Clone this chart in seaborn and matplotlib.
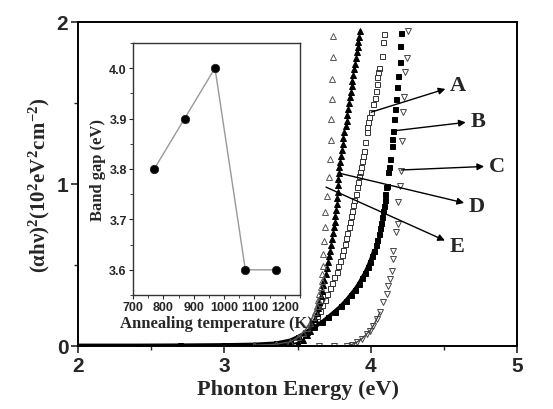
import numpy as np
import pandas as pd
import seaborn as sns
import matplotlib
matplotlib.use("Agg")
import matplotlib.pyplot as plt
from matplotlib.ticker import MultipleLocator

# ---- main panel: (alpha h nu)^2 vs photon energy ----
# A: open squares
xA = [3.20, 3.35, 3.45, 3.517, 3.552, 3.586, 3.613, 3.636, 3.654, 3.670, 3.688, 3.704,
      3.722, 3.736, 3.752, 3.768, 3.779, 3.791, 3.803, 3.814, 3.823, 3.832, 3.841, 3.852,
      3.859, 3.866, 3.875, 3.882, 3.889, 3.898, 3.905, 3.916, 3.921, 3.928, 3.932, 3.939,
      3.946, 3.955, 3.964, 3.973, 3.977, 3.984, 3.991, 4.003, 4.018, 4.030, 4.037, 4.042,
      4.046, 4.053, 4.059, 4.076, 4.087, 4.094]
yA = [0.003, 0.008, 0.020, 0.054, 0.085, 0.115, 0.150, 0.183, 0.218, 0.253, 0.286, 0.321,
      0.356, 0.389, 0.424, 0.459, 0.492, 0.527, 0.562, 0.594, 0.630, 0.665, 0.698, 0.733,
      0.767, 0.801, 0.835, 0.870, 0.903, 0.938, 0.980, 1.010, 1.048, 1.076, 1.103, 1.144,
      1.175, 1.206, 1.261, 1.319, 1.350, 1.381, 1.412, 1.443, 1.494, 1.529, 1.576, 1.617,
      1.659, 1.689, 1.714, 1.792, 1.875, 1.926]

# B: filled squares
xB = [2.00, 2.40, 2.70, 3.00, 3.20, 3.35, 3.449, 3.506, 3.563, 3.613, 3.666, 3.711,
      3.755, 3.796, 3.832, 3.864, 3.893, 3.919, 3.941, 3.962, 3.980, 3.996, 4.010, 4.023,
      4.035, 4.046, 4.055, 4.064, 4.071, 4.078, 4.085, 4.092, 4.096, 4.101, 4.105, 4.114,
      4.121, 4.126, 4.133, 4.144, 4.148, 4.155, 4.160, 4.169, 4.174, 4.183, 4.185, 4.201,
      4.201, 4.208]
yB = [0.002, 0.002, 0.003, 0.005, 0.008, 0.015, 0.033, 0.056, 0.085, 0.115, 0.146, 0.179,
      0.212, 0.245, 0.280, 0.315, 0.348, 0.383, 0.418, 0.451, 0.486, 0.520, 0.554, 0.588,
      0.623, 0.656, 0.691, 0.727, 0.759, 0.794, 0.831, 0.866, 0.903, 0.938, 0.980, 0.990,
      1.072, 1.103, 1.154, 1.236, 1.278, 1.329, 1.401, 1.463, 1.525, 1.597, 1.669, 1.755,
      1.854, 1.932]

# C: open down-triangles
xC = [3.65, 3.75, 3.837, 3.871, 3.905, 3.939, 3.973, 3.996, 4.018, 4.042, 4.064, 4.087,
      4.110, 4.121, 4.133, 4.144, 4.151, 4.155, 4.172, 4.189, 4.189, 4.201, 4.208, 4.217,
      4.219, 4.230, 4.237, 4.247, 4.254]
yC = [0.000, 0.000, 0.000, 0.008, 0.023, 0.043, 0.074, 0.094, 0.125, 0.167, 0.208, 0.270,
      0.321, 0.372, 0.414, 0.465, 0.537, 0.588, 0.702, 0.753, 0.887, 0.990, 1.082, 1.267,
      1.446, 1.539, 1.690, 1.776, 1.943]

# D: filled up-triangles
xD = [3.00, 3.20, 3.35, 3.45, 3.506, 3.540, 3.563, 3.586, 3.604, 3.617, 3.632, 3.640,
      3.650, 3.659, 3.668, 3.677, 3.684, 3.693, 3.702, 3.709, 3.718, 3.725, 3.731, 3.738,
      3.745, 3.750, 3.755, 3.759, 3.764, 3.768, 3.770, 3.775, 3.775, 3.779, 3.782, 3.786,
      3.791, 3.796, 3.803, 3.810, 3.814, 3.821, 3.830, 3.837, 3.841, 3.848, 3.852, 3.859,
      3.864, 3.871, 3.875, 3.882, 3.889, 3.893, 3.900, 3.905, 3.912, 3.916, 3.921, 3.928]
yD = [0.000, 0.003, 0.006, 0.010, 0.019, 0.039, 0.064, 0.094, 0.130, 0.167, 0.204, 0.233,
      0.270, 0.307, 0.341, 0.377, 0.409, 0.444, 0.480, 0.517, 0.554, 0.588, 0.623, 0.660,
      0.698, 0.733, 0.767, 0.804, 0.841, 0.877, 0.912, 0.949, 0.994, 1.031, 1.068, 1.103,
      1.138, 1.175, 1.212, 1.247, 1.282, 1.319, 1.356, 1.391, 1.426, 1.463, 1.500, 1.535,
      1.570, 1.607, 1.638, 1.673, 1.710, 1.741, 1.776, 1.813, 1.844, 1.875, 1.906, 1.946]

# E: open up-triangles
xE = [3.20, 3.35, 3.45, 3.506, 3.536, 3.563, 3.586, 3.604, 3.620, 3.632, 3.643, 3.650,
      3.659, 3.666, 3.670, 3.673, 3.677, 3.684, 3.688, 3.688, 3.700, 3.716, 3.722, 3.727,
      3.729, 3.734, 3.738, 3.741, 3.745]
yE = [0.004, 0.010, 0.025, 0.054, 0.080, 0.109, 0.142, 0.177, 0.212, 0.249, 0.286, 0.321,
      0.362, 0.403, 0.444, 0.492, 0.568, 0.650, 0.733, 0.825, 0.928, 1.041, 1.154, 1.273,
      1.401, 1.525, 1.648, 1.782, 1.916]

labels = ["A", "B", "C", "D", "E"]
# where each arrow starts (on the curve) and where the letter sits
arrow_from = [(4.003, 1.443), (4.151, 1.327), (4.208, 1.086), (3.777, 1.068), (3.695, 0.980)]
label_at = [(4.597, 1.611), (4.732, 1.389), (4.862, 1.111), (4.725, 0.864), (4.589, 0.617)]

# ---- inset: band gap vs annealing temperature ----
anneal_T = [770, 870, 970, 1070, 1170]
band_gap = [3.8, 3.9, 4.0, 3.6, 3.6]

sns.set_theme(style="ticks")
plt.rcParams["font.family"] = ["Liberation Sans", "DejaVu Sans"]
plt.rcParams["font.weight"] = "bold"
plt.rcParams["mathtext.fontset"] = "custom"
plt.rcParams["mathtext.rm"] = "Liberation Serif:bold"
plt.rcParams["mathtext.it"] = "Liberation Serif:bold"
plt.rcParams["mathtext.bf"] = "Liberation Serif:bold"

SERIF = ["Liberation Serif", "DejaVu Serif"]

fig = plt.figure(figsize=(5.53, 4.10), dpi=100)
ax = fig.add_axes([0.141, 0.154, 0.794, 0.79])

# series: data, marker, filled?, edge colour, marker size, dense-part cutoff, dense line width
series = [
    (xA, yA, "s", False, "#333333", 3.6, 0.30, 1.0),
    (xB, yB, "s", True, "black", 3.6, 0.60, 2.8),
    (xC, yC, "v", False, "#444444", 4.2, 0.22, 1.0),
    (xD, yD, "^", True, "black", 4.4, 0.30, 1.4),
    (xE, yE, "^", False, "#555555", 4.2, 0.30, 0.9),
]

for xs, ys, mk, filled, ec, ms, cut, lw in series:
    df = pd.DataFrame({"x": xs, "y": ys})
    low = df[df["y"] <= cut]
    sns.lineplot(data=low, x="x", y="y", ax=ax, sort=False, estimator=None,
                 color=ec, lw=lw)
    sns.lineplot(data=df, x="x", y="y", ax=ax, sort=False, estimator=None,
                 linestyle="none", marker=mk, markersize=ms,
                 color=ec, markerfacecolor=ec if filled else "none",
                 markeredgecolor=ec, markeredgewidth=0.7)

for lab, (x0, y0), (xt, yt) in zip(labels, arrow_from, label_at):
    ax.annotate(lab, xy=(x0, y0), xytext=(xt, yt), ha="center", va="center",
                fontsize=16, fontweight="bold", family=SERIF,
                arrowprops=dict(arrowstyle="<|-", color="black", lw=1.0,
                                mutation_scale=10, shrinkA=1, shrinkB=0))

ax.set_xlim(2, 5)
ax.set_ylim(0, 2)
ax.xaxis.set_major_locator(MultipleLocator(1))
ax.xaxis.set_minor_locator(MultipleLocator(0.5))
ax.yaxis.set_major_locator(MultipleLocator(1))
ax.yaxis.set_minor_locator(MultipleLocator(0.5))
ax.tick_params(which="major", direction="out", length=5, width=1.2,
               labelsize=15, pad=2)
ax.tick_params(which="minor", direction="out", length=3, width=1.0)
for s in ax.spines.values():
    s.set_linewidth(1.4)
    s.set_color("black")
    s.set_visible(True)

ax.set_xlabel("Phonton Energy (eV)", fontsize=16, fontweight="bold",
              family=SERIF, labelpad=3)
ax.set_ylabel(r"$(\alpha h\nu)^2(10^2eV^2cm^{-2})$", fontsize=15, labelpad=3)

# inset
axin = fig.add_axes([0.2405, 0.278, 0.302, 0.615])
sns.lineplot(x=anneal_T, y=band_gap, ax=axin, color="#999999", lw=1.0,
             marker="o", markersize=6, markerfacecolor="black",
             markeredgecolor="#222222", markeredgewidth=0.6)
axin.set_xlim(700, 1250)
axin.set_ylim(3.55, 4.05)
axin.xaxis.set_major_locator(MultipleLocator(100))
axin.xaxis.set_minor_locator(MultipleLocator(50))
axin.yaxis.set_major_locator(MultipleLocator(0.1))
axin.yaxis.set_minor_locator(MultipleLocator(0.05))
axin.tick_params(which="major", direction="out", length=3, width=0.8,
                 labelsize=9, pad=1.5)
axin.tick_params(which="minor", direction="out", length=2, width=0.6)
for s in axin.spines.values():
    s.set_linewidth(1.0)
    s.set_color("#333333")
    s.set_visible(True)
axin.set_xlabel("Annealing temperature (K)", fontsize=12, fontweight="bold",
                family=SERIF, labelpad=1)
axin.set_ylabel("Band gap (eV)", fontsize=12, fontweight="bold",
                family=SERIF, labelpad=2)

fig.savefig("out.png", dpi=100)
